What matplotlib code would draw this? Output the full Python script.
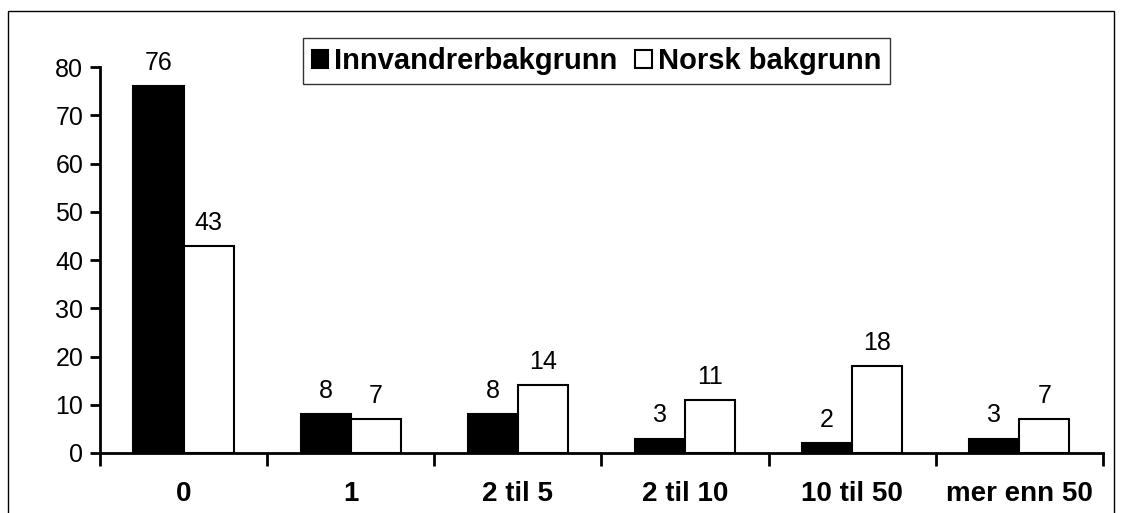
import numpy as np
import matplotlib.pyplot as plt
from matplotlib.patches import Rectangle

plt.rcParams['font.family'] = ['Liberation Sans', 'DejaVu Sans']

categories = ['0', '1', '2 til 5', '2 til 10', '10 til 50', 'mer enn 50']
innvandrer = [76, 8, 8, 3, 2, 3]
norsk = [43, 7, 14, 11, 18, 7]

fig = plt.figure(figsize=(11.23, 5.13), dpi=100)
ax = fig.add_axes([0.089, 0.117, 0.893, 0.752])

# ramme rundt hele figuren
fig.patches.append(Rectangle((8 / 1123, -0.1), 1106 / 1123, 1.1 - 11 / 513,
                             transform=fig.transFigure, fill=False,
                             edgecolor='black', linewidth=1.0))

x = np.arange(len(categories))
w = 0.3
b1 = ax.bar(x - w / 2, innvandrer, w, color='black', edgecolor='black',
            linewidth=1.5, label='Innvandrerbakgrunn')
b2 = ax.bar(x + w / 2, norsk, w, color='white', edgecolor='black',
            linewidth=1.5, label='Norsk bakgrunn')

for bars in (b1, b2):
    for r in bars:
        ax.annotate(f'{r.get_height():g}', (r.get_x() + r.get_width() / 2, r.get_height()),
                    xytext=(0, 8), textcoords='offset points', ha='center', va='bottom',
                    fontsize=18)

ax.set_xlim(-0.5, len(categories) - 0.5)
ax.set_ylim(0, 80)
ax.set_yticks(range(0, 81, 10))
ax.tick_params(axis='y', labelsize=18, width=2, length=7, direction='out', pad=5)

ax.set_xticks(x)
ax.set_xticklabels(categories, fontsize=20, fontweight='bold')
ax.tick_params(axis='x', length=0, pad=20)
ax.set_xticks(np.arange(-0.5, len(categories)), minor=True)
ax.tick_params(axis='x', which='minor', length=9, width=2, direction='out')

for s in ('top', 'right'):
    ax.spines[s].set_visible(False)
ax.spines['left'].set_linewidth(2)
ax.spines['bottom'].set_linewidth(2)

leg = ax.legend(loc='upper center', bbox_to_anchor=(0.495, 1.075), ncol=2,
                prop={'size': 21, 'weight': 'bold'}, frameon=True, fancybox=False,
                edgecolor='black', handlelength=0.58, handleheight=0.58,
                handletextpad=0.2, columnspacing=0.6, borderpad=0.3,
                borderaxespad=0)
leg.get_frame().set_linewidth(1.0)

fig.savefig('out.png', dpi=100)
